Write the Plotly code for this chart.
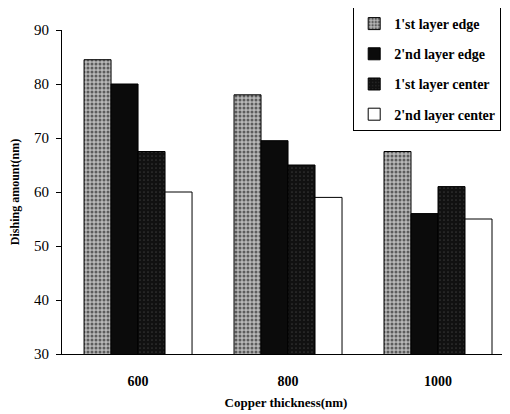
import plotly.graph_objects as go

categories = ["600", "800", "1000"]
series_names = ["1'st layer edge", "2'nd layer edge", "1'st layer center", "2'nd layer center"]
edge1 = [84.5, 78.0, 67.5]
edge2 = [80.0, 69.5, 56.0]
center1 = [67.5, 65.0, 61.0]
center2 = [60.0, 59.0, 55.0]
y_ticks = [30, 40, 50, 60, 70, 80, 90]

values = [edge1, edge2, center1, center2]
fills = ["#9a9a9a", "#0b0b0b", "#1c1c1c", "#ffffff"]
patterns = [dict(shape=".", fgcolor="#000000", bgcolor="#b8b8b8", size=4, solidity=0.45),
            None, dict(shape=".", fgcolor="#555555", bgcolor="#111111", size=4, solidity=0.15), None]

fig = go.Figure()
for i, (name, vals) in enumerate(zip(series_names, values)):
    marker = dict(color=fills[i], line=dict(color="#000000", width=1))
    if patterns[i]:
        marker["pattern"] = patterns[i]
    fig.add_trace(go.Bar(x=categories, y=vals, name=f"<b>{name}</b>", marker=marker,
                         legendgroup=f"g{i}"))

font_family = "Liberation Serif, Times New Roman, serif"
fig.update_layout(
    width=510, height=414,
    margin=dict(l=54, r=8, t=22, b=68, autoexpand=False),
    paper_bgcolor="white", plot_bgcolor="white",
    barmode="group", bargap=0.28, bargroupgap=0,
    font=dict(family=font_family, color="#000000", size=12),
    showlegend=True,
    legend=dict(x=0.65, y=1.071, xanchor="left", yanchor="top",
                bordercolor="#000000", borderwidth=1, bgcolor="white",
                font=dict(family=font_family, size=14),
                tracegroupgap=9, itemwidth=30),
    xaxis=dict(type="category", range=[-0.507, 2.48], showline=True, linecolor="#000000",
               linewidth=1, ticks="", showgrid=False, automargin=False,
               ticklabelstandoff=14,
               tickfont=dict(family=font_family, size=14),
               title=dict(text="<b>Copper thickness(nm)</b>", font=dict(family=font_family, size=13),
                          standoff=10)),
    yaxis=dict(range=[30, 90], tickvals=y_ticks, showline=True, linecolor="#000000", linewidth=1,
               ticks="outside", ticklen=5, tickcolor="#000000", showgrid=False, zeroline=False,
               automargin=False, ticklabelstandoff=4,
               tickfont=dict(family=font_family, size=15),
               title=dict(text="<b>Dishing amount(nm)</b>", font=dict(family=font_family, size=12),
                          standoff=12)),
)
fig.update_xaxes(tickprefix="<b>", ticksuffix="</b>")
fig.update_yaxes(tickprefix="<b>", ticksuffix="</b>")

fig.write_html("out.html")
